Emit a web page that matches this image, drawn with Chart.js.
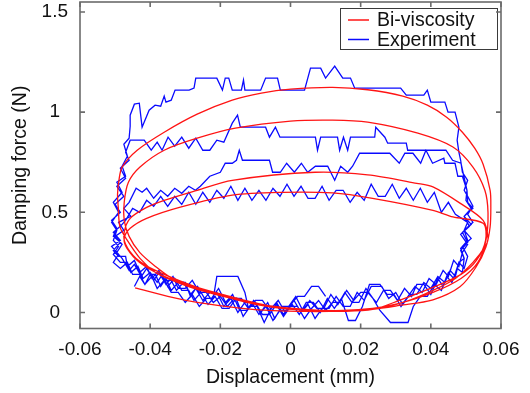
<!DOCTYPE html>
<html><head><meta charset="utf-8">
<script src="https://cdn.jsdelivr.net/npm/chart.js@4/dist/chart.umd.min.js"></script>
<style>html,body{margin:0;padding:0;background:#fff}#c{display:block}</style>
</head><body>
<canvas id="c" width="530" height="393"></canvas>
<script>
const xTicks = [-0.06, -0.04, -0.02, 0, 0.02, 0.04, 0.06];
const yTicks = [0, 0.5, 1, 1.5];
const seriesNames = ['Bi-viscosity', 'Experiment'];
const xTitle = 'Displacement (mm)';
const yTitle = 'Damping force (N)';

// Bi-viscosity model trajectory [displacement, force]
const modelStart = [[-0.0443,0.123],[-0.0337,0.075],[-0.0266,0.05],[-0.0151,0.023],[-0.005,0.009],[0.005,0.005],[0.015,0.007],[0.0234,0.016],[0.031,0.035],[0.0406,0.063],[0.0483,0.128],[0.0529,0.227],[0.0557,0.327],[0.0569,0.427],[0.0571,0.527]];
const modelLoop1 = [[0.0569,0.61],[0.0549,0.74],[0.0525,0.82],[0.049,0.90],[0.0445,0.975],[0.039,1.035],[0.032,1.08],[0.022,1.112],[0.012,1.124],[0.0,1.115],[-0.0083,1.095],[-0.0166,1.06],[-0.0266,0.99],[-0.036,0.90],[-0.0437,0.81],[-0.048,0.726],[-0.0489,0.66],[-0.0493,0.59],[-0.0491,0.527],[-0.0486,0.427],[-0.0466,0.362],[-0.0429,0.27]];
const modelBottom2 = [[-0.0385,0.2],[-0.0337,0.16],[-0.0266,0.115],[-0.0151,0.063],[-0.007,0.035],[0.005,0.014],[0.015,0.01],[0.0234,0.02],[0.031,0.045],[0.0406,0.10],[0.0486,0.17],[0.0534,0.25],[0.0557,0.36],[0.0563,0.497]];
const modelLoop2 = [[0.0554,0.61],[0.052,0.726],[0.0463,0.826],[0.0363,0.895],[0.022,0.95],[0.012,0.96],[0.0,0.955],[-0.0157,0.92],[-0.0266,0.87],[-0.036,0.81],[-0.0429,0.726],[-0.0462,0.65],[-0.0474,0.55],[-0.0474,0.46],[-0.046,0.38],[-0.043,0.3]];
const modelBottom3 = [[-0.0385,0.23],[-0.0337,0.17],[-0.0266,0.12],[-0.0151,0.065],[-0.005,0.03],[0.005,0.012],[0.015,0.008],[0.025,0.02],[0.033,0.055],[0.0406,0.11],[0.047,0.17],[0.052,0.25],[0.0555,0.33],[0.0563,0.37]];
const modelLoop3 = [[0.0549,0.46],[0.0483,0.546],[0.0406,0.627],[0.036,0.645],[0.022,0.687],[0.007,0.70],[-0.0166,0.66],[-0.0266,0.61],[-0.036,0.56],[-0.041,0.525],[-0.0457,0.47],[-0.0474,0.40],[-0.047,0.34],[-0.044,0.27]];
const modelBottom4 = [[-0.0385,0.21],[-0.0266,0.125],[-0.0151,0.062],[-0.005,0.025],[0.005,0.01],[0.015,0.006],[0.0234,0.015],[0.031,0.06],[0.0406,0.125],[0.0486,0.19],[0.053,0.26],[0.0556,0.36]];
const modelLoop4 = [[0.0549,0.445],[0.0463,0.477],[0.0406,0.51],[0.0234,0.57],[0.012,0.597],[-0.0023,0.60],[-0.0166,0.586],[-0.0314,0.526],[-0.041,0.47],[-0.0457,0.42],[-0.0474,0.37],[-0.0466,0.32],[-0.043,0.25],[-0.036,0.18],[-0.0266,0.125],[-0.0151,0.07],[-0.005,0.03],[0.005,0.012]];

// Experimental trace [displacement, force]
const expStart = [[-0.0445,0.13],[-0.043,0.18],[-0.0415,0.14],[-0.040,0.19],[-0.0385,0.19],[-0.037,0.13],[-0.0355,0.17],[-0.034,0.11],[-0.032,0.15],[-0.030,0.15],[-0.0285,0.08],[-0.027,0.12],[-0.025,0.06],[-0.023,0.1],[-0.021,0.1],[-0.019,0.03],[-0.017,0.07],[-0.015,0.0],[-0.013,0.05],[-0.011,0.05],[-0.009,-0.01],[-0.007,0.03],[-0.005,-0.04],[-0.003,0.01],[-0.001,0.01],[0.001,0.06],[0.003,0.0],[0.005,0.04],[0.007,-0.03],[0.009,0.02],[0.011,0.02],[0.013,0.08],[0.015,0.03],[0.017,0.03],[0.019,0.1],[0.021,0.06],[0.023,0.13],[0.026,0.13],[0.028,0.07],[0.030,0.1],[0.032,0.04],[0.034,0.09],[0.036,0.09],[0.038,0.15],[0.040,0.12],[0.042,0.18],[0.044,0.15],[0.0455,0.21],[0.047,0.18],[0.048,0.25],[0.0495,0.27]];
const expRightA = [[0.0485,0.32],[0.0505,0.36],[0.0495,0.41],[0.052,0.45],[0.0505,0.49],[0.052,0.53],[0.0505,0.58],[0.0495,0.61],[0.0505,0.66],[0.049,0.7],[0.0485,0.76],[0.048,0.8],[0.0475,0.86],[0.048,0.925]];
const expBandA = [[0.0469,1.0],[0.0449,1.0],[0.044,1.05],[0.040,1.05],[0.039,1.11],[0.038,1.085],[0.033,1.085],[0.0314,1.12],[0.0183,1.12],[0.0171,1.17],[0.0149,1.17],[0.0126,1.23],[0.010,1.17],[0.0086,1.22],[0.0057,1.22],[0.004,1.11],[-0.0029,1.11],[-0.0037,1.17],[-0.0071,1.17],[-0.0085,1.11],[-0.013,1.11],[-0.0134,1.16],[-0.014,1.11],[-0.0166,1.11],[-0.0176,1.17],[-0.0186,1.17],[-0.0194,1.11],[-0.021,1.17],[-0.027,1.17],[-0.0275,1.12],[-0.0289,1.11],[-0.0329,1.11],[-0.034,1.06],[-0.0355,1.05],[-0.036,1.08],[-0.037,1.03],[-0.0386,1.035],[-0.0403,1.01],[-0.0423,0.925],[-0.0431,1.045],[-0.0445,1.04],[-0.0457,0.985]];
const expLeftA = [[-0.0457,0.93],[-0.046,0.87],[-0.0475,0.84],[-0.0465,0.78],[-0.048,0.73],[-0.047,0.68],[-0.0495,0.65],[-0.048,0.6],[-0.0505,0.55],[-0.049,0.5],[-0.051,0.45],[-0.0495,0.41],[-0.0505,0.36],[-0.049,0.33],[-0.0505,0.29]];
const expBottom1 = [[-0.0485,0.25],[-0.047,0.25],[-0.0455,0.2],[-0.0435,0.23],[-0.042,0.17],[-0.040,0.2],[-0.038,0.15],[-0.0365,0.19],[-0.035,0.13],[-0.033,0.17],[-0.031,0.11],[-0.029,0.11],[-0.0275,0.06],[-0.0255,0.1],[-0.0235,0.04],[-0.0215,0.08],[-0.0195,0.02],[-0.0175,0.02],[-0.0155,0.07],[-0.0135,-0.02],[-0.0115,0.03],[-0.0095,0.03],[-0.0075,-0.05],[-0.0055,0.02],[-0.0035,0.06],[-0.0015,0.0],[0.0005,0.04],[0.0025,-0.01],[0.0045,0.05],[0.0065,0.05],[0.0085,0.0],[0.0105,0.07],[0.0125,0.02],[0.0145,0.07],[0.0165,-0.04],[0.0185,-0.04],[0.0205,0.03],[0.0225,0.14],[0.0255,0.14],[0.0275,0.09],[0.0295,0.09],[0.0315,0.03],[0.0335,0.08],[0.0355,0.13],[0.0375,0.1],[0.0395,0.17],[0.0415,0.14],[0.0435,0.21],[0.045,0.18],[0.0465,0.26],[0.048,0.23],[0.049,0.3]];
const expRightB = [[0.0505,0.34],[0.0485,0.39],[0.051,0.43],[0.0495,0.48],[0.0515,0.52],[0.05,0.56],[0.0503,0.61],[0.0494,0.68],[0.0486,0.745],[0.0462,0.76],[0.0443,0.81]];
const expBandB = [[0.0334,0.81],[0.033,0.845],[0.0277,0.845],[0.0269,0.875],[0.0243,0.925],[0.024,0.875],[0.0171,0.875],[0.0163,0.81],[0.0151,0.875],[0.014,0.81],[0.0134,0.875],[0.0086,0.875],[0.0077,0.81],[0.0071,0.875],[-0.003,0.875],[-0.0043,0.925],[-0.006,0.875],[-0.0071,0.925],[-0.0143,0.925],[-0.0151,0.985],[-0.0166,0.945],[-0.019,0.85],[-0.021,0.86],[-0.023,0.81],[-0.025,0.81],[-0.027,0.87],[-0.029,0.82],[-0.031,0.875],[-0.033,0.83],[-0.0349,0.875],[-0.0366,0.81],[-0.038,0.85],[-0.0397,0.81],[-0.0417,0.86],[-0.0437,0.86],[-0.0457,0.86]];
const expLeftB = [[-0.047,0.8],[-0.046,0.76],[-0.0485,0.72],[-0.047,0.67],[-0.0495,0.63],[-0.0475,0.58],[-0.05,0.54],[-0.0485,0.5],[-0.051,0.46],[-0.0495,0.42],[-0.0505,0.38],[-0.0485,0.35],[-0.0505,0.31]];
const expBottom2 = [[-0.049,0.28],[-0.047,0.28],[-0.0465,0.23],[-0.0445,0.26],[-0.043,0.2],[-0.041,0.23],[-0.0395,0.17],[-0.0375,0.21],[-0.036,0.16],[-0.034,0.16],[-0.0325,0.11],[-0.0305,0.15],[-0.0285,0.09],[-0.0265,0.13],[-0.0245,0.07],[-0.0225,0.07],[-0.0205,0.12],[-0.0185,0.05],[-0.0165,0.09],[-0.0145,0.01],[-0.0125,0.01],[-0.0105,0.06],[-0.0085,0.0],[-0.0065,0.05],[-0.0045,-0.03],[-0.0025,0.03],[-0.0005,0.03],[0.0015,0.08],[0.0035,0.01],[0.0055,0.06],[0.0075,0.02],[0.0095,0.02],[0.0115,0.09],[0.0135,0.04],[0.0155,0.1],[0.0175,0.05],[0.0195,0.05],[0.0215,0.12],[0.0235,0.07],[0.0255,0.01],[0.0285,-0.05],[0.0335,-0.05],[0.035,0.03],[0.037,0.08],[0.039,0.08],[0.041,0.14],[0.043,0.11],[0.0445,0.18],[0.046,0.15],[0.0475,0.22],[0.049,0.2],[0.0495,0.27]];
const expRightC = [[0.0485,0.31],[0.0505,0.35],[0.049,0.4],[0.0515,0.44],[0.0495,0.48],[0.052,0.52],[0.0505,0.55],[0.0503,0.61],[0.049,0.68]];
const expBandC = [[0.0477,0.68],[0.0469,0.745],[0.044,0.745],[0.0437,0.77],[0.0405,0.745],[0.0386,0.81],[0.0371,0.745],[0.0349,0.795],[0.0326,0.795],[0.031,0.745],[0.0283,0.795],[0.0197,0.795],[0.0177,0.73],[0.0163,0.70],[0.0143,0.73],[0.0126,0.66],[0.0106,0.73],[0.0071,0.73],[0.0049,0.70],[0.0031,0.745],[0.0011,0.70],[-0.0011,0.745],[-0.0029,0.70],[-0.0051,0.70],[-0.006,0.76],[-0.0137,0.76],[-0.0146,0.81],[-0.0154,0.76],[-0.0166,0.745],[-0.0186,0.745],[-0.020,0.70],[-0.023,0.68],[-0.0257,0.63],[-0.0271,0.61],[-0.029,0.63],[-0.031,0.595],[-0.033,0.62],[-0.035,0.58],[-0.037,0.61],[-0.039,0.57],[-0.041,0.62],[-0.0423,0.6],[-0.044,0.62],[-0.046,0.55]];
const expLeftC = [[-0.0475,0.52],[-0.0455,0.48],[-0.049,0.45],[-0.0475,0.41],[-0.05,0.38],[-0.048,0.34],[-0.0495,0.3]];
const expBottom3 = [[-0.048,0.27],[-0.046,0.21],[-0.0445,0.24],[-0.0425,0.18],[-0.041,0.22],[-0.039,0.16],[-0.0375,0.2],[-0.0355,0.14],[-0.0335,0.18],[-0.032,0.12],[-0.030,0.12],[-0.028,0.16],[-0.026,0.1],[-0.024,0.1],[-0.022,0.05],[-0.020,0.08],[-0.018,0.03],[-0.016,0.07],[-0.014,0.07],[-0.012,0.02],[-0.010,0.05],[-0.008,-0.01],[-0.006,-0.01],[-0.004,0.04],[-0.002,-0.02],[0.0,0.03],[0.002,0.03],[0.004,-0.03],[0.006,0.02],[0.008,0.06],[0.010,0.01],[0.012,0.05],[0.014,0.05],[0.016,0.11],[0.018,0.06],[0.020,0.1],[0.022,0.1],[0.0245,0.05],[0.0265,0.11],[0.0285,0.11],[0.0305,0.06],[0.0325,0.12],[0.0345,0.08],[0.036,0.14],[0.038,0.14],[0.040,0.09],[0.042,0.17],[0.0435,0.13],[0.045,0.2],[0.0465,0.17],[0.048,0.25]];
const expRightD = [[0.0495,0.22],[0.0505,0.28],[0.049,0.33],[0.0515,0.37],[0.0495,0.41],[0.0505,0.45],[0.047,0.49]];
const expBandD = [[0.045,0.55],[0.043,0.5],[0.041,0.6],[0.039,0.55],[0.037,0.62],[0.035,0.56],[0.033,0.62],[0.031,0.57],[0.029,0.64],[0.027,0.58],[0.025,0.58],[0.023,0.64],[0.021,0.56],[0.019,0.6],[0.017,0.55],[0.015,0.61],[0.013,0.61],[0.011,0.56],[0.009,0.63],[0.007,0.57],[0.005,0.57],[0.003,0.63],[0.001,0.58],[-0.001,0.64],[-0.003,0.58],[-0.005,0.62],[-0.007,0.56],[-0.009,0.61],[-0.011,0.56],[-0.013,0.62],[-0.015,0.56],[-0.017,0.63],[-0.019,0.57],[-0.021,0.61],[-0.023,0.55],[-0.025,0.6],[-0.027,0.54],[-0.029,0.6],[-0.031,0.54],[-0.033,0.58],[-0.035,0.53],[-0.037,0.58],[-0.039,0.53],[-0.041,0.56],[-0.043,0.5],[-0.045,0.52],[-0.047,0.46]];
const expLeftD = [[-0.0485,0.43],[-0.0505,0.4],[-0.0485,0.36],[-0.051,0.33],[-0.049,0.29],[-0.0505,0.25]];
const expEnd = [[-0.0485,0.22],[-0.0465,0.25],[-0.045,0.19],[-0.043,0.19],[-0.0415,0.14],[-0.0395,0.18],[-0.038,0.12],[-0.036,0.16],[-0.034,0.1],[-0.032,0.1],[-0.030,0.05],[-0.028,0.09],[-0.026,0.03],[-0.024,0.07],[-0.022,0.07],[-0.021,0.18],[-0.015,0.18],[-0.013,0.1],[-0.012,0.02],[-0.010,0.06],[-0.008,0.06],[-0.006,0.01],[-0.004,0.05],[-0.002,-0.01],[0.0,0.04],[0.002,0.08],[0.004,0.08],[0.006,0.13],[0.008,0.13],[0.010,0.08]];

const modelPath = [].concat(modelStart, modelLoop1, modelBottom2, modelLoop2, modelBottom3, modelLoop3, modelBottom4, modelLoop4);
const expPath = [].concat(expStart, expRightA, expBandA, expLeftA, expBottom1, expRightB, expBandB, expLeftB, expBottom2, expRightC, expBandC, expLeftC, expBottom3, expRightD, expBandD, expLeftD, expEnd);
const toPts = a => a.map(p => ({x: p[0], y: p[1]}));

const FONT = '"Liberation Sans", Arial, Helvetica, sans-serif';

const framePlugin = {
  id: 'frame',
  afterDraw(chart) {
    const {ctx, chartArea: a, scales: {x, y}} = chart;
    ctx.save();
    ctx.strokeStyle = '#6b6b6b';
    ctx.lineWidth = 1.6;
    ctx.strokeRect(a.left, a.top, a.right - a.left, a.bottom - a.top);
    const L = 5;
    ctx.beginPath();
    x.ticks.forEach(t => {
      const px = x.getPixelForValue(t.value);
      ctx.moveTo(px, a.bottom); ctx.lineTo(px, a.bottom - L);
      ctx.moveTo(px, a.top); ctx.lineTo(px, a.top + L);
    });
    y.ticks.forEach(t => {
      const py = y.getPixelForValue(t.value);
      ctx.moveTo(a.left, py); ctx.lineTo(a.left + L, py);
      ctx.moveTo(a.right, py); ctx.lineTo(a.right - L, py);
    });
    ctx.stroke();
    ctx.restore();
  }
};

const legendPlugin = {
  id: 'boxLegend',
  afterDatasetsDraw(chart) {
    const ctx = chart.ctx;
    const x0 = 340, y0 = 8, w = 157, h = 41;
    ctx.save();
    ctx.fillStyle = '#fff';
    ctx.fillRect(x0, y0, w, h);
    ctx.strokeStyle = '#3a3a3a';
    ctx.lineWidth = 1;
    ctx.strokeRect(x0 + 0.5, y0 + 0.5, w, h);
    chart.data.datasets.forEach((ds, i) => {
      const cy = y0 + 12 + i * 19.5;
      ctx.strokeStyle = ds.borderColor;
      ctx.lineWidth = 1.5;
      ctx.beginPath(); ctx.moveTo(348, cy); ctx.lineTo(369, cy); ctx.stroke();
      ctx.fillStyle = '#111';
      ctx.font = '19.5px ' + FONT;
      ctx.textBaseline = 'middle';
      ctx.fillText(ds.label, 377, cy + 1);
    });
    ctx.restore();
  }
};

new Chart(document.getElementById('c'), {
  type: 'scatter',
  data: {
    datasets: [
      {label: seriesNames[0], data: toPts(modelPath), showLine: true, borderColor: 'rgb(255,20,20)', borderWidth: 1.3, pointRadius: 0, tension: 0.3, fill: false},
      {label: seriesNames[1], data: toPts(expPath), showLine: true, borderColor: 'rgb(10,10,255)', borderWidth: 1.3, pointRadius: 0, tension: 0, fill: false}
    ]
  },
  options: {
    responsive: false,
    animation: false,
    events: [],
    layout: {padding: {top: 2, right: 29, left: 0, bottom: 0}},
    plugins: {legend: {display: false}, tooltip: {enabled: false}},
    scales: {
      x: {
        type: 'linear', min: -0.06, max: 0.06,
        afterBuildTicks: s => { s.ticks = xTicks.map(v => ({value: v})); },
        afterFit: s => { s.height = 64.5; s.paddingLeft = 0; s.paddingRight = 0; },
        grid: {display: false, drawTicks: false},
        border: {display: false},
        ticks: {autoSkip: false, maxRotation: 0, padding: 10, color: '#111', font: {family: FONT, size: 19}, callback: v => String(v)},
        title: {display: true, text: xTitle, color: '#111', font: {family: FONT, size: 19.5}, padding: {top: 0, bottom: 4}}
      },
      y: {
        type: 'linear', min: -0.08, max: 1.55,
        afterBuildTicks: s => { s.ticks = yTicks.map(v => ({value: v})); },
        afterFit: s => { s.width = 80; s.paddingTop = 0; s.paddingBottom = 0; },
        grid: {display: false, drawTicks: false},
        border: {display: false},
        ticks: {autoSkip: false, padding: 12, crossAlign: 'center', color: '#111', font: {family: FONT, size: 19}, callback: v => String(v)},
        title: {display: true, text: yTitle, color: '#111', font: {family: FONT, size: 19.5}, padding: {top: 9, bottom: 0}}
      }
    }
  },
  plugins: [framePlugin, legendPlugin]
});
</script>
</body></html>
